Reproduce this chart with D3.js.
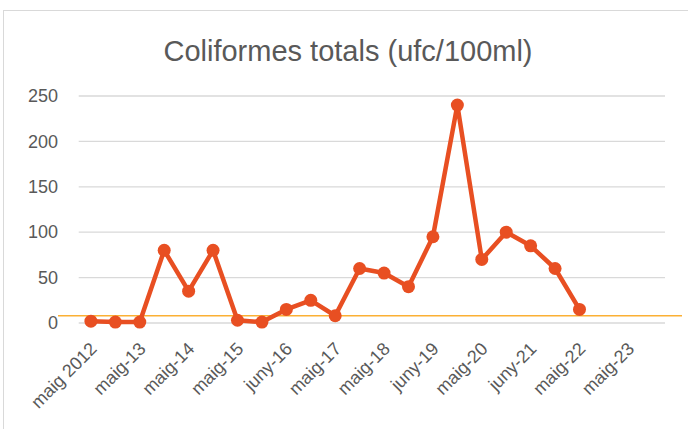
<!DOCTYPE html>
<html>
<head>
<meta charset="utf-8">
<script src="https://cdn.jsdelivr.net/npm/d3@7"></script>
<style>
  body { margin: 0; background: #fff; }
  text { font-family: "Liberation Sans", Arial, sans-serif; fill: #595959; }
</style>
</head>
<body>
<div id="chart"></div>
<script>
// chart data
const TITLE = "Coliformes totals (ufc/100ml)";
const TICK_LABELS = ["maig 2012", "maig-13", "maig-14", "maig-15", "juny-16", "maig-17",
                     "maig-18", "juny-19", "maig-20", "juny-21", "maig-22", "maig-23"];
const VALUES = [2, 1, 1, 80, 35, 80, 3, 1, 15, 25, 8, 60,
                55, 40, 95, 240, 70, 100, 85, 60, 15];
const Y_TICKS = [0, 50, 100, 150, 200, 250];
const LIMIT = 8;   // orange reference line
const N_CATS = 24; // categories on the axis, labels every 2nd one

// frame
const FRAME_WIDTH = 688;
const FRAME_HEIGHT = 429;
const PLOT = {left: 78.7, right: 665, top: 96, bottom: 323};

const FRAME = d3.select("#chart")
                .append("svg")
                  .attr("width", FRAME_WIDTH)
                  .attr("height", FRAME_HEIGHT);

// chart border
FRAME.append("rect")
      .attr("x", 3.5)
      .attr("y", 10.5)
      .attr("width", 700)
      .attr("height", 440)
      .attr("fill", "none")
      .attr("stroke", "#d9d9d9");

// scales
const X_SCALE = d3.scaleBand()
                  .domain(d3.range(N_CATS))
                  .range([PLOT.left, PLOT.right]);

const Y_SCALE = d3.scaleLinear()
                  .domain([0, 250])
                  .range([PLOT.bottom, PLOT.top]);

const xc = i => X_SCALE(i) + X_SCALE.bandwidth() / 2;

// title
FRAME.append("text")
      .attr("x", 348)
      .attr("y", 61)
      .attr("text-anchor", "middle")
      .attr("font-size", 29)
      .text(TITLE);

// gridlines
FRAME.selectAll(".grid")
      .data(Y_TICKS.filter(d => d > 0))
      .enter().append("line")
        .attr("class", "grid")
        .attr("x1", PLOT.left)
        .attr("x2", PLOT.right)
        .attr("y1", d => Y_SCALE(d))
        .attr("y2", d => Y_SCALE(d))
        .attr("stroke", "#d9d9d9")
        .attr("stroke-width", 1.3);

// y axis labels
const yAxis = FRAME.append("g")
      .attr("transform", "translate(58,0)")
      .call(d3.axisLeft(Y_SCALE).tickValues(Y_TICKS).tickSize(0).tickPadding(0));
yAxis.select(".domain").remove();
yAxis.selectAll("text")
      .attr("font-family", "Liberation Sans, Arial, sans-serif")
      .attr("font-size", 18)
      .attr("fill", "#595959");

// category axis line
FRAME.append("line")
      .attr("x1", PLOT.left)
      .attr("x2", PLOT.right)
      .attr("y1", Y_SCALE(0))
      .attr("y2", Y_SCALE(0))
      .attr("stroke", "#d9d9d9")
      .attr("stroke-width", 1.6);

// x labels, every 2nd category
FRAME.selectAll(".xlab")
      .data(TICK_LABELS)
      .enter().append("text")
        .attr("class", "xlab")
        .attr("text-anchor", "end")
        .attr("font-size", 18)
        .attr("transform", (d, i) => "translate(" + (xc(i * 2) + 7) + "," + 350 + ") rotate(-45)")
        .text(d => d);

// orange reference line
FRAME.append("line")
      .attr("x1", 58)
      .attr("x2", 682)
      .attr("y1", Y_SCALE(LIMIT))
      .attr("y2", Y_SCALE(LIMIT))
      .attr("stroke", "#fbb034")
      .attr("stroke-width", 1.5);

// series line
const line = d3.line()
               .x((d, i) => xc(i))
               .y(d => Y_SCALE(d));

FRAME.append("path")
      .datum(VALUES)
      .attr("d", line)
      .attr("fill", "none")
      .attr("stroke", "#e84f22")
      .attr("stroke-width", 4.5)
      .attr("stroke-linejoin", "round");

// markers
FRAME.selectAll(".point")
      .data(VALUES)
      .enter().append("circle")
        .attr("class", "point")
        .attr("cx", (d, i) => xc(i))
        .attr("cy", d => Y_SCALE(d))
        .attr("r", 6.5)
        .attr("fill", "#e84f22");
</script>
</body>
</html>
